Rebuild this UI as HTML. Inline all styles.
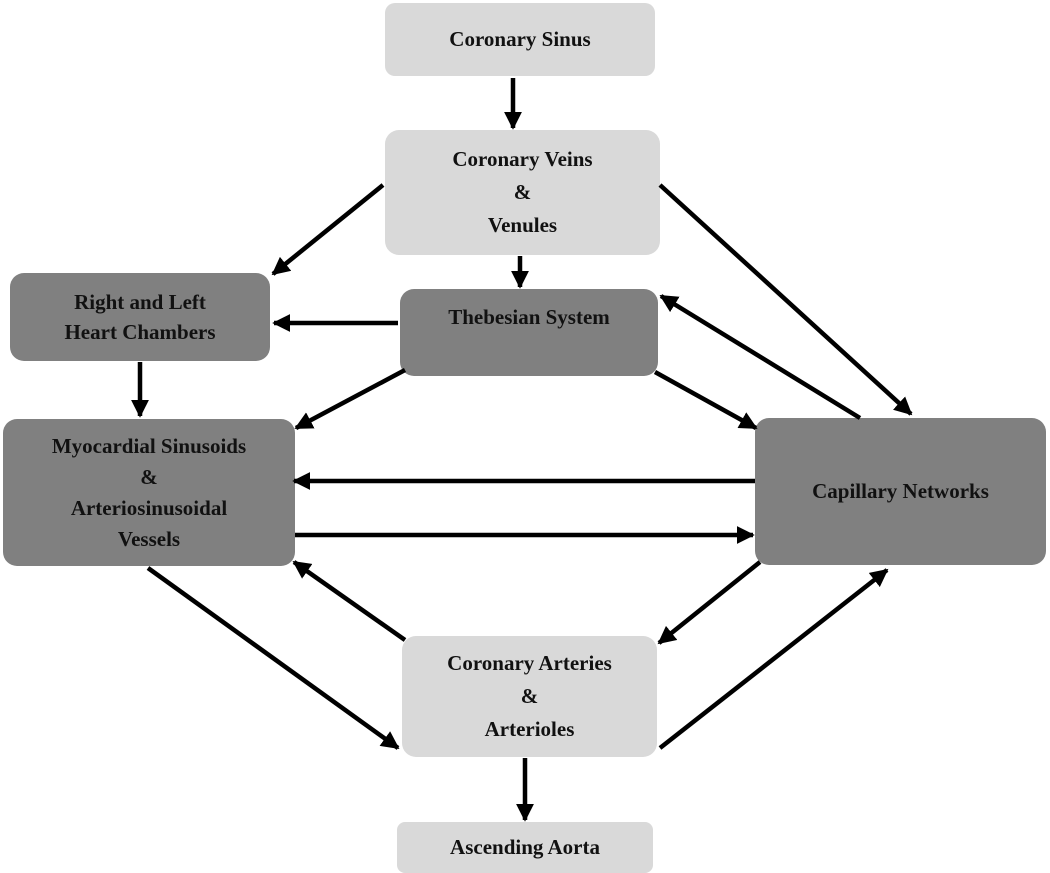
<!DOCTYPE html>
<html><head><style>
body{margin:0;background:#fff;width:1050px;height:873px;overflow:hidden;position:relative;font-family:"Liberation Serif",serif;}
.b{position:absolute;border-radius:14px;display:flex;align-items:center;justify-content:center;text-align:center;font-weight:bold;font-size:21px;line-height:33px;color:#111;}
.l{background:#d9d9d9}.d{background:#808080}
svg{position:absolute;left:0;top:0}
</style></head><body>
<div class="b l" style="left:385px;top:3px;width:270px;height:73px;border-radius:10px">Coronary Sinus</div>
<div class="b l" style="left:385px;top:130px;width:275px;height:125px">Coronary Veins<br>&amp;<br>Venules</div>
<div class="b d" style="left:10px;top:273px;width:260px;height:88px;line-height:30px">Right and Left<br>Heart Chambers</div>
<div class="b d" style="left:400px;top:289px;width:258px;height:87px;align-items:flex-start;padding-top:12px;box-sizing:border-box">Thebesian System</div>
<div class="b d" style="left:3px;top:419px;width:292px;height:147px;line-height:31px">Myocardial Sinusoids<br>&amp;<br>Arteriosinusoidal<br>Vessels</div>
<div class="b d" style="left:755px;top:418px;width:291px;height:147px">Capillary Networks</div>
<div class="b l" style="left:402px;top:636px;width:255px;height:121px">Coronary Arteries<br>&amp;<br>Arterioles</div>
<div class="b l" style="left:397px;top:822px;width:256px;height:51px;border-radius:8px">Ascending Aorta</div>
<svg width="1050" height="873">
<defs><marker id="a" viewBox="0 0 10 10" refX="9" refY="5" markerWidth="4" markerHeight="4" orient="auto" markerUnits="strokeWidth"><path d="M0,0L10,5L0,10z" fill="#000"/></marker></defs>
<g stroke="#000" stroke-width="4.5" marker-end="url(#a)">
<line x1="513" y1="78" x2="513" y2="128"/>
<line x1="383" y1="185" x2="273" y2="274"/>
<line x1="520" y1="256" x2="520" y2="287"/>
<line x1="660" y1="185" x2="911" y2="414"/>
<line x1="398" y1="323" x2="274" y2="323"/>
<line x1="140" y1="362" x2="140" y2="416"/>
<line x1="405" y1="370" x2="296" y2="428"/>
<line x1="655" y1="372" x2="756" y2="428"/>
<line x1="860" y1="418" x2="661" y2="296"/>
<line x1="755" y1="481" x2="294" y2="481"/>
<line x1="295" y1="535" x2="753" y2="535"/>
<line x1="148" y1="568" x2="398" y2="748"/>
<line x1="405" y1="640" x2="294" y2="562"/>
<line x1="760" y1="562" x2="659" y2="643"/>
<line x1="660" y1="748" x2="887" y2="570"/>
<line x1="525" y1="758" x2="525" y2="820"/>
</g></svg>
</body></html>
